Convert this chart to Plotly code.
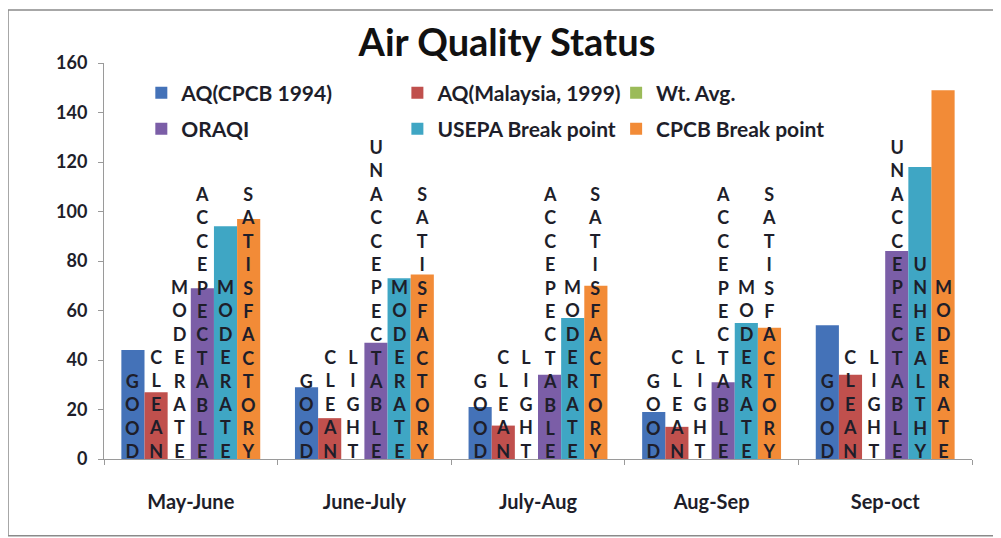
import plotly.graph_objects as go

periods = ["May-June", "June-July", "July-Aug", "Aug-Sep", "Sep-oct"]
series_names = ["AQ(CPCB 1994)", "AQ(Malaysia, 1999)", "Wt. Avg.",
                "ORAQI", "USEPA Break point", "CPCB Break point"]

aq_cpcb = [44, 29, 21, 19, 54]
aq_malaysia = [27, 16.5, 13.5, 13, 34]
wt_avg = [0, 0, 0, 0, 0]
oraqi = [69, 47, 34, 31, 84]
usepa = [94, 73, 57, 55, 118]
cpcb_bp = [97, 74.5, 70, 53, 149]

# status labels written on each bar, one list per series
lbl_cpcb = ["GOOD", "GOOD", "GOOD", "GOOD", "GOOD"]
lbl_malaysia = ["CLEAN", "CLEAN", "CLEAN", "CLEAN", "CLEAN"]
lbl_wt = ["MODERATE", "LIGHT", "LIGHT", "LIGHT", "LIGHT"]
lbl_oraqi = ["ACCEPECTABLE", "UNACCEPECTABLE", "ACCEPECTABLE", "ACCEPECTABLE", "UNACCEPECTABLE"]
lbl_usepa = ["MODERATE", "MODERATE", "MODERATE", "MODERATE", "UNHEALTHY"]
lbl_cpcb_bp = ["SATISFACTORY", "SATISFACTORY", "SATISFACTORY", "SATISFACTORY", "MODERATE"]

values = [aq_cpcb, aq_malaysia, wt_avg, oraqi, usepa, cpcb_bp]
labels = [lbl_cpcb, lbl_malaysia, lbl_wt, lbl_oraqi, lbl_usepa, lbl_cpcb_bp]
colors = ["#4472b8", "#c0504d", "#9bbb59", "#7b5ea7", "#3fa6c4", "#f28b37"]

FONT = "Lato"
DARK = "#1e1e2a"
bargap = 0.2
n = len(series_names)
x = list(range(len(periods)))

# legend slots (3 columns x 2 rows), paper coords
leg_x = [0.043, 0.338, 0.590]
leg_y = [0.924, 0.833]

fig = go.Figure()
for j, (name, vals, col) in enumerate(zip(series_names, values, colors)):
    lg = "legend" if j == 0 else f"legend{j + 1}"
    fig.add_trace(go.Bar(x=x, y=vals, name=name, marker_color=col,
                         marker_line_width=0, legend=lg, showlegend=True))

layout_legends = {}
for j in range(n):
    key = "legend" if j == 0 else f"legend{j + 1}"
    layout_legends[key] = dict(
        x=leg_x[j % 3], y=leg_y[j // 3], xanchor="left", yanchor="middle",
        bgcolor="rgba(0,0,0,0)", font=dict(family=FONT, size=21, color=DARK, weight="bold"),
        itemwidth=30,
    )

annotations = []
w = (1 - bargap) / n
for j in range(n):
    for i in x:
        word = labels[j][i]
        annotations.append(dict(
            x=i - (1 - bargap) / 2 + (j + 0.5) * w, y=0,
            xref="x", yref="y", xanchor="center", yanchor="bottom",
            text="<br>".join(word), showarrow=False, yshift=-5,
            font=dict(family=FONT, size=18, color=DARK, weight="bold"),
        ))

# the page body adds an 8px offset, so the figure is drawn 8px smaller
fig.update_layout(
    width=993, height=530,
    showlegend=True,
    margin=dict(l=96, r=29, t=55, b=79),
    paper_bgcolor="white", plot_bgcolor="white",
    barmode="group", bargap=bargap, bargroupgap=0,
    title=dict(text="Air Quality Status", x=0.5025, y=0.934, xref="container",
               yref="container", xanchor="center", yanchor="middle",
               font=dict(family=FONT, size=38, color="#111", weight="bold")),
    xaxis=dict(range=[-0.5, len(periods) - 0.5], tickmode="array", tickvals=x,
               ticktext=periods, ticks="", showline=True, linecolor="#9a9a9a",
               linewidth=1, showgrid=False, zeroline=False, ticklabelstandoff=25,
               tickfont=dict(family=FONT, size=20, color=DARK, weight="bold"),
               minor=dict(tickmode="array", tickvals=[k - 0.5 for k in range(len(periods) + 1)],
                          ticks="outside", ticklen=5, tickcolor="#9a9a9a")),
    yaxis=dict(range=[0, 160], dtick=20, ticks="outside", ticklen=5, tickcolor="#9a9a9a",
               showline=True, linecolor="#9a9a9a", linewidth=1, showgrid=False,
               zeroline=False, ticklabelstandoff=7,
               tickfont=dict(family=FONT, size=18, color=DARK, weight="bold")),
    annotations=annotations,
    shapes=[dict(type="rect", xref="paper", yref="paper",
                 x0=-0.1106, x1=1.030, y0=-0.194, y1=1.134,
                 line=dict(color="#8a8a8a", width=1.5), fillcolor="rgba(0,0,0,0)")],
    **layout_legends,
)

fig.write_html("out.html")
